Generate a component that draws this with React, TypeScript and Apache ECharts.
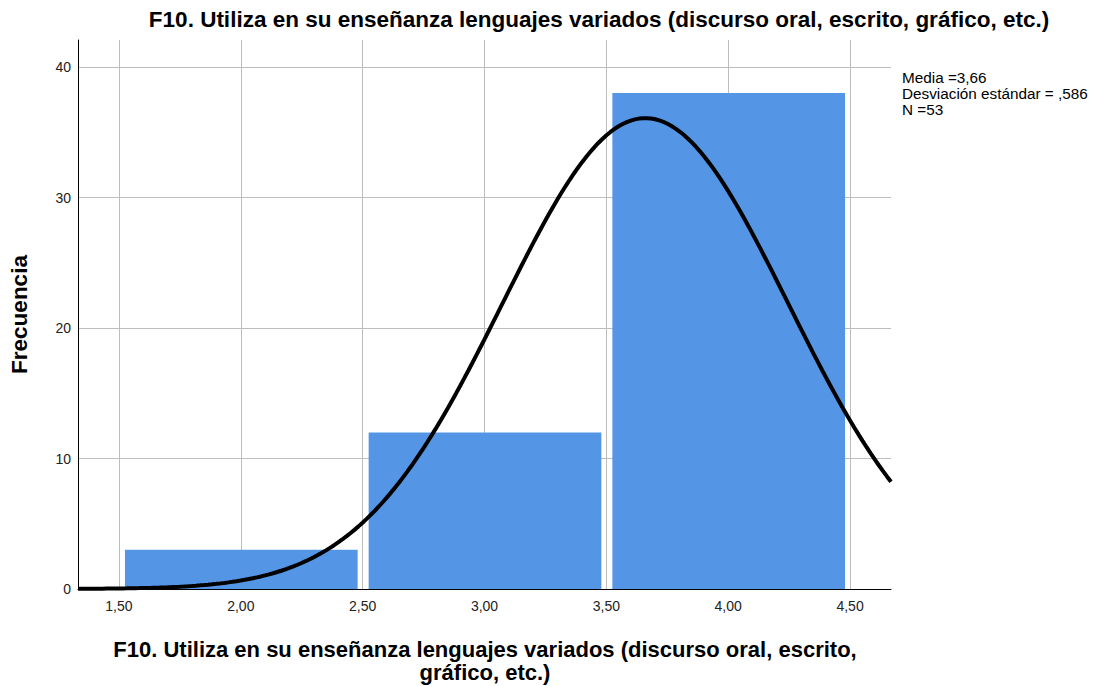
import React, { useEffect, useRef } from "react";
import * as echarts from "echarts";

const binStarts = [1.5, 2.5, 3.5];
const binEnds = [2.5, 3.5, 4.5];
const frequencies = [3, 12, 38];
const xTickValues = [1.5, 2.0, 2.5, 3.0, 3.5, 4.0, 4.5];
const yTickValues = [0, 10, 20, 30, 40];
const mean = 3.66;
const stdDev = 0.586;
const nCases = 53;
const binWidth = 1;
const xMin = 1.332;
const xMax = 4.668;
const yMax = 42.07;

const titleText = "F10. Utiliza en su enseñanza lenguajes variados (discurso oral, escrito, gráfico, etc.)";
const xAxisNameLines = ["F10. Utiliza en su enseñanza lenguajes variados (discurso oral, escrito,", "gráfico, etc.)"];
const statsText = "Media =3,66\nDesviación estándar = ,586\nN =53";

const FONT = "'Liberation Sans', Arial, sans-serif";
const BIG = 22.5;

function normalCurve(): number[][] {
  const pts: number[][] = [];
  const steps = 200;
  const k = (nCases * binWidth) / (stdDev * Math.sqrt(2 * Math.PI));
  for (let i = 0; i <= steps; i++) {
    const x = xMin + ((xMax - xMin) * i) / steps;
    const z = (x - mean) / stdDev;
    pts.push([x, k * Math.exp(-0.5 * z * z)]);
  }
  return pts;
}

const fmtComma = (v: number) => v.toFixed(2).replace(".", ",");

export default function App() {
  const ref = useRef<HTMLDivElement>(null);
  useEffect(() => {
    document.body.style.margin = "0";
    document.body.style.overflow = "hidden";
    if (!ref.current) return;
    const chart = echarts.init(ref.current, undefined, { renderer: "svg" });
    const barData = binStarts.map((s, i) => [s, binEnds[i], frequencies[i]]);
    chart.setOption({
      animation: false,
      backgroundColor: "#ffffff",
      title: {
        text: titleText,
        left: 594,
        top: 3,
        textAlign: "center",
        textStyle: { fontFamily: FONT, fontSize: BIG, fontWeight: "bold", color: "#000" },
      },
      grid: { left: 78, right: 205, top: 40, bottom: 97 },
      xAxis: {
        type: "value",
        min: xMin,
        max: xMax,
        axisLine: { show: true, onZero: false, lineStyle: { color: "#000", width: 1 } },
        axisTick: { show: false },
        splitLine: { show: false },
        axisLabel: {
          customValues: xTickValues,
          formatter: (v: number) => fmtComma(v),
          fontFamily: FONT,
          fontSize: 14,
          color: "#222",
          margin: 10,
        },
      },
      yAxis: {
        type: "value",
        min: 0,
        max: yMax,
        name: "Frecuencia",
        nameLocation: "middle",
        nameGap: 47,
        nameTextStyle: { fontFamily: FONT, fontSize: BIG, fontWeight: "bold", color: "#000" },
        axisLine: { show: true, lineStyle: { color: "#000", width: 1 } },
        axisTick: { show: false },
        splitLine: { show: false },
        axisLabel: {
          customValues: yTickValues,
          formatter: (v: number) => String(Math.round(v)),
          fontFamily: FONT,
          fontSize: 14,
          color: "#222",
          margin: 7,
        },
      },
      graphic: [
        {
          type: "text",
          left: 902,
          top: 69,
          style: { text: statsText, fontFamily: FONT, fontSize: 15.3, fill: "#000", lineHeight: 16 },
        },
        {
          type: "text",
          x: 485,
          y: 649.5,
          style: {
            text: xAxisNameLines[0],
            fontFamily: FONT,
            fontSize: 22,
            fontWeight: "bold",
            fill: "#000",
            align: "center",
            verticalAlign: "middle",
          },
        },
        {
          type: "text",
          x: 485,
          y: 672.5,
          style: {
            text: xAxisNameLines[1],
            fontFamily: FONT,
            fontSize: 22,
            fontWeight: "bold",
            fill: "#000",
            align: "center",
            verticalAlign: "middle",
          },
        },
      ],
      series: [
        {
          type: "line",
          data: [],
          z: 0,
          silent: true,
          markLine: {
            silent: true,
            z: 0,
            symbol: "none",
            label: { show: false },
            lineStyle: { color: "#bdbdbd", width: 1, type: "solid" },
            emphasis: { disabled: true },
            data: [
              ...xTickValues.map((v) => ({ xAxis: v })),
              ...yTickValues.filter((v) => v > 0).map((v) => ({ yAxis: v })),
            ],
          },
        },
        {
          type: "custom",
          z: 10,
          data: barData,
          encode: { x: [0, 1], y: 2 },
          renderItem: (params: any, api: any) => {
            const p0 = api.coord([api.value(0), api.value(2)]);
            const p1 = api.coord([api.value(1), 0]);
            return {
              type: "rect",
              z2: 10,
              shape: { x: p0[0] + 6, y: p0[1], width: p1[0] - p0[0] - 11, height: p1[1] - p0[1] },
              style: { fill: "#5495E6" },
            };
          },
        },
        {
          type: "line",
          z: 20,
          data: normalCurve(),
          showSymbol: false,
          smooth: false,
          silent: true,
          lineStyle: { color: "#000", width: 4 },
        },
      ],
    });
    return () => chart.dispose();
  }, []);
  return <div ref={ref} style={{ width: 1096, height: 686 }} />;
}
